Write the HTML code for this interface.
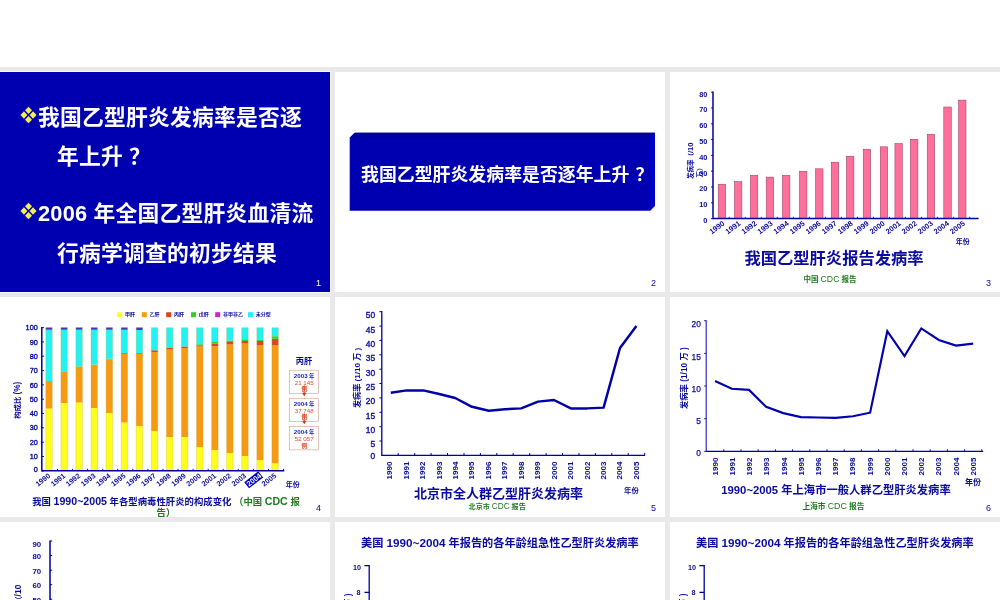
<!DOCTYPE html>
<html lang="zh">
<head>
<meta charset="utf-8">
<title>乙型肝炎发病率</title>
<style>
html,body{margin:0;padding:0;}
body{width:1000px;height:600px;overflow:hidden;background:#fff;position:relative;
 font-family:"Liberation Sans","Noto Sans CJK SC",sans-serif;font-weight:bold;}
#grid{position:absolute;left:0;top:67px;width:1000px;height:533px;background:#e9e9e9;overflow:hidden;}
.s{position:absolute;width:330px;height:220px;background:#fff;overflow:hidden;}
.s svg{position:absolute;left:0;top:0;}
.c1{left:0}.c2{left:335px}.c3{left:670px}
.r1{top:5px}.r2{top:230px}.r3{top:455px}
.n{position:absolute;right:9px;bottom:3.7px;font-size:9px;font-weight:normal;color:#0a0a9e;line-height:9px;}
text{font-family:"Liberation Sans","Noto Sans CJK SC",sans-serif;font-weight:bold;}
.L{font-size:1.13em;line-height:1px;}
#s1{background:#0000b0;color:#fff;box-shadow:0 0 0 1px #f6f6fc;}
#s1 p{position:absolute;margin:0.5px 0 0;white-space:nowrap;font-size:21.8px;line-height:26px;letter-spacing:0.2px;}
#s1 p span{margin-left:6px;}
#s1 .b{position:absolute;left:19.5px;width:17px;height:18px;}
</style>
</head>
<body>
<div id="grid">

<!-- slide 1 -->
<div class="s c1 r1" id="s1">
 <svg class="b" style="top:34.3px" viewBox="0 0 16 17"><g fill="#f0ec5c"><path d="M8 0.6l3.3 3.5L8 7.6 4.7 4.1z"/><path d="M3.7 5L7 8.5l-3.3 3.5L0.4 8.5z"/><path d="M12.3 5l3.3 3.5-3.3 3.5L9 8.5z"/><path d="M8 9.4l3.3 3.5L8 16.4l-3.3-3.5z"/></g></svg>
 <p style="left:38px;top:32px">我国乙型肝炎发病率是否逐</p>
 <p style="left:57px;top:71px">年上升<span>？</span></p>
 <svg class="b" style="top:130.3px" viewBox="0 0 16 17"><g fill="#f0ec5c"><path d="M8 0.6l3.3 3.5L8 7.6 4.7 4.1z"/><path d="M3.7 5L7 8.5l-3.3 3.5L0.4 8.5z"/><path d="M12.3 5l3.3 3.5-3.3 3.5L9 8.5z"/><path d="M8 9.4l3.3 3.5L8 16.4l-3.3-3.5z"/></g></svg>
 <p style="left:38px;top:128.5px">2006 年全国乙型肝炎血清流</p>
 <p style="left:57px;top:168px">行病学调查的初步结果</p>
 <div class="n" style="color:#fff">1</div>
</div>

<!-- slide 2 -->
<div class="s c2 r1" id="s2">
 <svg width="330" height="220"><defs><linearGradient id="tg" x1="0" y1="0" x2="0" y2="1"><stop offset="0" stop-color="#00008c"/><stop offset="1" stop-color="#0000aa"/></linearGradient></defs><path d="M14.7 65.7L19.7 60.7H320V133.7L315 138.7H14.7z" fill="#0000b0"/><path d="M14.7 65.7L19.7 60.7H320L315 65.7z" fill="url(#tg)"/><path d="M320 60.7V133.7L315 138.7V65.7z" fill="#0000c6"/>
 <text x="26" y="109.2" font-size="17.9" fill="#fff">我国乙型肝炎发病率是否逐年上升<tspan dx="6">？</tspan></text></svg>
 <div class="n">2</div>
</div>

<!-- slide 3 -->
<div class="s c3 r1" id="s3"><svg width="330" height="220"><g fill="#ff6f9c" stroke="#8a3c5a" stroke-width="0.5"><rect x="48.2" y="112.2" width="7.5" height="34.4"/><rect x="64.4" y="109.6" width="7.5" height="37"/><rect x="80.3" y="103.3" width="7.5" height="43.3"/><rect x="96.2" y="105.1" width="7.5" height="41.5"/><rect x="112.4" y="103.3" width="7.5" height="43.3"/><rect x="129.4" y="99.2" width="7.5" height="47.4"/><rect x="145.5" y="96.8" width="7.5" height="49.8"/><rect x="161.2" y="90.2" width="7.5" height="56.4"/><rect x="176.4" y="84.2" width="7.5" height="62.4"/><rect x="193.2" y="77.2" width="7.5" height="69.4"/><rect x="210.2" y="74.8" width="7.5" height="71.8"/><rect x="224.9" y="71.5" width="7.5" height="75.1"/><rect x="240.4" y="67.3" width="7.5" height="79.3"/><rect x="257.2" y="62.2" width="7.5" height="84.4"/><rect x="273.8" y="35" width="7.5" height="111.6"/><rect x="288.5" y="28.1" width="7.5" height="118.5"/></g>
<path d="M43 19.5L43 147.3" stroke="#00009c" stroke-width="1.5" fill="none"/>
<path d="M43 146.6L308.6 146.6" stroke="#00009c" stroke-width="1.5" fill="none"/>
<path d="M41 146.6H43M41 130.8H43M41 115H43M41 99.2H43M41 83.4H43M41 67.6H43M41 51.8H43M41 36H43M41 20.2H43M59.2 146.6V144.8M75.3 146.6V144.8M91.3 146.6V144.8M107.3 146.6V144.8M123.4 146.6V144.8M139.4 146.6V144.8M155.4 146.6V144.8M171.4 146.6V144.8M187.5 146.6V144.8M203.5 146.6V144.8M219.5 146.6V144.8M235.6 146.6V144.8M251.6 146.6V144.8M267.6 146.6V144.8M283.7 146.6V144.8M299.7 146.6V144.8" stroke="#00009c" stroke-width="0.9" fill="none"/>
<text x="37.3" y="150.9" font-size="7.3" fill="#0a0a9e" text-anchor="end">0</text><text x="37.3" y="135.1" font-size="7.3" fill="#0a0a9e" text-anchor="end">10</text><text x="37.3" y="119.3" font-size="7.3" fill="#0a0a9e" text-anchor="end">20</text><text x="37.3" y="103.5" font-size="7.3" fill="#0a0a9e" text-anchor="end">30</text><text x="37.3" y="87.7" font-size="7.3" fill="#0a0a9e" text-anchor="end">40</text><text x="37.3" y="71.9" font-size="7.3" fill="#0a0a9e" text-anchor="end">50</text><text x="37.3" y="56.1" font-size="7.3" fill="#0a0a9e" text-anchor="end">60</text><text x="37.3" y="40.3" font-size="7.3" fill="#0a0a9e" text-anchor="end">70</text><text x="37.3" y="24.5" font-size="7.3" fill="#0a0a9e" text-anchor="end">80</text><text x="55.2" y="152.6" font-size="7.5" fill="#0a0a9e" text-anchor="end" transform="rotate(-36 55.2 152.6)">1990</text><text x="71.2" y="152.6" font-size="7.5" fill="#0a0a9e" text-anchor="end" transform="rotate(-36 71.2 152.6)">1991</text><text x="87.3" y="152.6" font-size="7.5" fill="#0a0a9e" text-anchor="end" transform="rotate(-36 87.3 152.6)">1992</text><text x="103.3" y="152.6" font-size="7.5" fill="#0a0a9e" text-anchor="end" transform="rotate(-36 103.3 152.6)">1993</text><text x="119.3" y="152.6" font-size="7.5" fill="#0a0a9e" text-anchor="end" transform="rotate(-36 119.3 152.6)">1994</text><text x="135.4" y="152.6" font-size="7.5" fill="#0a0a9e" text-anchor="end" transform="rotate(-36 135.4 152.6)">1995</text><text x="151.4" y="152.6" font-size="7.5" fill="#0a0a9e" text-anchor="end" transform="rotate(-36 151.4 152.6)">1996</text><text x="167.4" y="152.6" font-size="7.5" fill="#0a0a9e" text-anchor="end" transform="rotate(-36 167.4 152.6)">1997</text><text x="183.4" y="152.6" font-size="7.5" fill="#0a0a9e" text-anchor="end" transform="rotate(-36 183.4 152.6)">1998</text><text x="199.5" y="152.6" font-size="7.5" fill="#0a0a9e" text-anchor="end" transform="rotate(-36 199.5 152.6)">1999</text><text x="215.5" y="152.6" font-size="7.5" fill="#0a0a9e" text-anchor="end" transform="rotate(-36 215.5 152.6)">2000</text><text x="231.5" y="152.6" font-size="7.5" fill="#0a0a9e" text-anchor="end" transform="rotate(-36 231.5 152.6)">2001</text><text x="247.6" y="152.6" font-size="7.5" fill="#0a0a9e" text-anchor="end" transform="rotate(-36 247.6 152.6)">2002</text><text x="263.6" y="152.6" font-size="7.5" fill="#0a0a9e" text-anchor="end" transform="rotate(-36 263.6 152.6)">2003</text><text x="279.6" y="152.6" font-size="7.5" fill="#0a0a9e" text-anchor="end" transform="rotate(-36 279.6 152.6)">2004</text><text x="295.7" y="152.6" font-size="7.5" fill="#0a0a9e" text-anchor="end" transform="rotate(-36 295.7 152.6)">2005</text>
<text x="22.8" y="107" font-size="6.5" fill="#0a0a9e" transform="rotate(-90 22.8 107)">发病率（<tspan font-size="7.6">/10</tspan></text>
<text x="32.4" y="105.5" font-size="6.5" fill="#0a0a9e" transform="rotate(-90 32.4 105.5)">万）</text>
<text x="285.8" y="171.8" font-size="7" fill="#0a0a9e">年份</text>
<text x="164" y="191.6" font-size="16.3" fill="#0a0a9e" text-anchor="middle">我国乙型肝炎报告发病率</text>
<text x="160" y="210.2" font-size="7.5" fill="#1c7a1c" text-anchor="middle">中国 <tspan font-size="8.7" style="font-weight:normal">CDC</tspan> 报告</text></svg><div class="n">3</div></div>

<!-- slide 4 -->
<div class="s c1 r2" id="s4"><svg width="330" height="220"><path d="M45.8 111.5h6.5V173.8h-6.5zM60.9 106.1h6.5V173.8h-6.5zM75.9 105.4h6.5V173.8h-6.5zM91 111.1h6.5V173.8h-6.5zM106.1 116.1h6.5V173.8h-6.5zM121.1 125.5h6.5V173.8h-6.5zM136.2 129h6.5V173.8h-6.5zM151.3 134h6.5V173.8h-6.5zM166.4 140.1h6.5V173.8h-6.5zM181.4 140.1h6.5V173.8h-6.5zM196.5 150h6.5V173.8h-6.5zM211.6 152.9h6.5V173.8h-6.5zM226.6 156h6.5V173.8h-6.5zM241.7 158.9h6.5V173.8h-6.5zM256.8 162.9h6.5V173.8h-6.5zM271.9 166.2h6.5V173.8h-6.5z" fill="#ffff1e"/>
<path d="M45.8 83.9h6.5V111.5h-6.5zM60.9 75h6.5V106.1h-6.5zM75.9 69.6h6.5V105.4h-6.5zM91 67.8h6.5V111.1h-6.5zM106.1 62.4h6.5V116.1h-6.5zM121.1 56.9h6.5V125.5h-6.5zM136.2 56.9h6.5V129h-6.5zM151.3 54.9h6.5V134h-6.5zM166.4 52.4h6.5V140.1h-6.5zM181.4 50.9h6.5V140.1h-6.5zM196.5 49.6h6.5V150h-6.5zM211.6 49.2h6.5V152.9h-6.5zM226.6 47.6h6.5V156h-6.5zM241.7 46.4h6.5V158.9h-6.5zM256.8 48.5h6.5V162.9h-6.5zM271.9 48.5h6.5V166.2h-6.5z" fill="#f59a12"/>
<path d="M151.3 53.2h6.5V54.9h-6.5zM166.4 50.9h6.5V52.4h-6.5zM181.4 49.4h6.5V50.9h-6.5zM196.5 48.2h6.5V49.6h-6.5zM211.6 46.4h6.5V49.2h-6.5zM226.6 45.1h6.5V47.6h-6.5zM241.7 43.9h6.5V46.4h-6.5zM256.8 44.1h6.5V48.5h-6.5zM271.9 41.8h6.5V48.5h-6.5z" fill="#d8481c"/>
<path d="M60.9 74.6h6.5V75h-6.5zM75.9 69.3h6.5V69.6h-6.5zM91 67.4h6.5V67.8h-6.5zM106.1 61.8h6.5V62.4h-6.5zM121.1 56.1h6.5V56.9h-6.5zM136.2 56.1h6.5V56.9h-6.5zM196.5 47.2h6.5V48.2h-6.5zM211.6 45.1h6.5V46.4h-6.5zM226.6 43.6h6.5V45.1h-6.5zM241.7 42.3h6.5V43.9h-6.5zM256.8 42.6h6.5V44.1h-6.5zM271.9 39.3h6.5V41.8h-6.5z" fill="#30d030"/>
<path d="M45.8 32.7h6.5V83.9h-6.5zM60.9 32.7h6.5V74.6h-6.5zM75.9 32.7h6.5V69.3h-6.5zM91 32.7h6.5V67.4h-6.5zM106.1 32.7h6.5V61.8h-6.5zM121.1 32.7h6.5V56.1h-6.5zM136.2 33h6.5V56.1h-6.5zM151.3 30.6h6.5V53.2h-6.5zM166.4 30.6h6.5V50.9h-6.5zM181.4 30.6h6.5V49.4h-6.5zM196.5 30.6h6.5V47.2h-6.5zM211.6 30.6h6.5V45.1h-6.5zM226.6 30.6h6.5V43.6h-6.5zM241.7 30.6h6.5V42.3h-6.5zM256.8 30.6h6.5V42.6h-6.5zM271.9 30.6h6.5V39.3h-6.5z" fill="#22f2f2"/>
<path d="M45.8 30.6h6.5V32.7h-6.5zM60.9 30.6h6.5V32.7h-6.5zM75.9 30.6h6.5V32.7h-6.5zM91 30.6h6.5V32.7h-6.5zM106.1 30.6h6.5V32.7h-6.5zM121.1 30.6h6.5V32.7h-6.5zM136.2 30.6h6.5V33h-6.5z" fill="#5030b8"/>
<path d="M45.8 30.6V173.8M52.3 30.6V173.8M60.9 30.6V173.8M67.4 30.6V173.8M75.9 30.6V173.8M82.4 30.6V173.8M91 30.6V173.8M97.5 30.6V173.8M106.1 30.6V173.8M112.6 30.6V173.8M121.1 30.6V173.8M127.6 30.6V173.8M136.2 30.6V173.8M142.7 30.6V173.8M151.3 30.6V173.8M157.8 30.6V173.8M166.4 30.6V173.8M172.9 30.6V173.8M181.4 30.6V173.8M187.9 30.6V173.8M196.5 30.6V173.8M203 30.6V173.8M211.6 30.6V173.8M218.1 30.6V173.8M226.6 30.6V173.8M233.1 30.6V173.8M241.7 30.6V173.8M248.2 30.6V173.8M256.8 30.6V173.8M263.3 30.6V173.8M271.9 30.6V173.8M278.4 30.6V173.8" stroke="#c8a030" stroke-width="0.4" fill="none" opacity="0.7"/>
<path d="M41.8 29.9L41.8 174.5" stroke="#00009c" stroke-width="1.5" fill="none"/>
<path d="M41.8 173.8L284.3 173.8" stroke="#00009c" stroke-width="1.5" fill="none"/>
<path d="M41.8 173.8H44M41.8 159.5H44M41.8 145.2H44M41.8 130.8H44M41.8 116.5H44M41.8 102.2H44M41.8 87.9H44M41.8 73.6H44M41.8 59.2H44M41.8 44.9H44M41.8 30.6H44M57.5 173.8V171.8M72.5 173.8V171.8M87.6 173.8V171.8M102.7 173.8V171.8M117.7 173.8V171.8M132.8 173.8V171.8M147.9 173.8V171.8M163 173.8V171.8M178 173.8V171.8M193.1 173.8V171.8M208.2 173.8V171.8M223.2 173.8V171.8M238.3 173.8V171.8M253.4 173.8V171.8M268.5 173.8V171.8M283.5 173.8V171.8" stroke="#00009c" stroke-width="0.9" fill="none"/>
<text x="37.8" y="174.8" font-size="7.3" fill="#0a0a9e" text-anchor="end" style="font-weight:normal;stroke:#0a0a9e;stroke-width:0.35">0</text><text x="37.8" y="162.1" font-size="7.3" fill="#0a0a9e" text-anchor="end" style="font-weight:normal;stroke:#0a0a9e;stroke-width:0.35">10</text><text x="37.8" y="147.8" font-size="7.3" fill="#0a0a9e" text-anchor="end" style="font-weight:normal;stroke:#0a0a9e;stroke-width:0.35">20</text><text x="37.8" y="133.4" font-size="7.3" fill="#0a0a9e" text-anchor="end" style="font-weight:normal;stroke:#0a0a9e;stroke-width:0.35">30</text><text x="37.8" y="119.1" font-size="7.3" fill="#0a0a9e" text-anchor="end" style="font-weight:normal;stroke:#0a0a9e;stroke-width:0.35">40</text><text x="37.8" y="104.8" font-size="7.3" fill="#0a0a9e" text-anchor="end" style="font-weight:normal;stroke:#0a0a9e;stroke-width:0.35">50</text><text x="37.8" y="90.5" font-size="7.3" fill="#0a0a9e" text-anchor="end" style="font-weight:normal;stroke:#0a0a9e;stroke-width:0.35">60</text><text x="37.8" y="76.2" font-size="7.3" fill="#0a0a9e" text-anchor="end" style="font-weight:normal;stroke:#0a0a9e;stroke-width:0.35">70</text><text x="37.8" y="61.8" font-size="7.3" fill="#0a0a9e" text-anchor="end" style="font-weight:normal;stroke:#0a0a9e;stroke-width:0.35">80</text><text x="37.8" y="47.5" font-size="7.3" fill="#0a0a9e" text-anchor="end" style="font-weight:normal;stroke:#0a0a9e;stroke-width:0.35">90</text><text x="37.8" y="33.2" font-size="7.3" fill="#0a0a9e" text-anchor="end" style="font-weight:normal;stroke:#0a0a9e;stroke-width:0.35">100</text><text x="50.9" y="179.8" font-size="7.3" fill="#0a0a9e" text-anchor="end" transform="rotate(-38 50.9 179.8)">1990</text><text x="66" y="179.8" font-size="7.3" fill="#0a0a9e" text-anchor="end" transform="rotate(-38 66 179.8)">1991</text><text x="81" y="179.8" font-size="7.3" fill="#0a0a9e" text-anchor="end" transform="rotate(-38 81 179.8)">1992</text><text x="96.1" y="179.8" font-size="7.3" fill="#0a0a9e" text-anchor="end" transform="rotate(-38 96.1 179.8)">1993</text><text x="111.2" y="179.8" font-size="7.3" fill="#0a0a9e" text-anchor="end" transform="rotate(-38 111.2 179.8)">1994</text><text x="126.2" y="179.8" font-size="7.3" fill="#0a0a9e" text-anchor="end" transform="rotate(-38 126.2 179.8)">1995</text><text x="141.3" y="179.8" font-size="7.3" fill="#0a0a9e" text-anchor="end" transform="rotate(-38 141.3 179.8)">1996</text><text x="156.4" y="179.8" font-size="7.3" fill="#0a0a9e" text-anchor="end" transform="rotate(-38 156.4 179.8)">1997</text><text x="171.5" y="179.8" font-size="7.3" fill="#0a0a9e" text-anchor="end" transform="rotate(-38 171.5 179.8)">1998</text><text x="186.5" y="179.8" font-size="7.3" fill="#0a0a9e" text-anchor="end" transform="rotate(-38 186.5 179.8)">1999</text><text x="201.6" y="179.8" font-size="7.3" fill="#0a0a9e" text-anchor="end" transform="rotate(-38 201.6 179.8)">2000</text><text x="216.7" y="179.8" font-size="7.3" fill="#0a0a9e" text-anchor="end" transform="rotate(-38 216.7 179.8)">2001</text><text x="231.7" y="179.8" font-size="7.3" fill="#0a0a9e" text-anchor="end" transform="rotate(-38 231.7 179.8)">2002</text><text x="246.8" y="179.8" font-size="7.3" fill="#0a0a9e" text-anchor="end" transform="rotate(-38 246.8 179.8)">2003</text><g transform="rotate(-38 261.9 179.8)"><rect x="244.7" y="173.2" width="17.8" height="7.8" fill="#0000b0"/><text x="261.9" y="179.8" font-size="7.3" fill="#fff" text-anchor="end">2004</text></g><text x="276.9" y="179.8" font-size="7.3" fill="#0a0a9e" text-anchor="end" transform="rotate(-38 276.9 179.8)">2005</text>
<text x="20.2" y="121.8" font-size="7.4" fill="#0a0a9e" transform="rotate(-90 20.2 121.8)">构成比 <tspan font-size="8.2">(%)</tspan></text>
<rect x="117.2" y="15.2" width="5" height="5" fill="#ffff1e"/>
<text x="125" y="19.4" font-size="5" fill="#0a0a9e">甲肝</text>
<rect x="141.8" y="15.2" width="5" height="5" fill="#f59a12"/>
<text x="149.6" y="19.4" font-size="5" fill="#0a0a9e">乙肝</text>
<rect x="166.2" y="15.2" width="5" height="5" fill="#d8481c"/>
<text x="174" y="19.4" font-size="5" fill="#0a0a9e">丙肝</text>
<rect x="191" y="15.2" width="5" height="5" fill="#30d030"/>
<text x="198.8" y="19.4" font-size="5" fill="#0a0a9e">戊肝</text>
<rect x="215.2" y="15.2" width="5" height="5" fill="#d020d0"/>
<text x="223" y="19.4" font-size="5" fill="#0a0a9e">非甲非乙</text>
<rect x="248" y="15.2" width="5" height="5" fill="#22f2f2"/>
<text x="255.8" y="19.4" font-size="5" fill="#0a0a9e">未分型</text>
<text x="304" y="67" font-size="8.2" fill="#0a0a9e" text-anchor="middle">丙肝</text>
<rect x="289.6" y="73.2" width="29" height="23.2" fill="#fff" stroke="#cc8874" stroke-width="0.5"/>
<text x="304.2" y="80.8" font-size="6.2" fill="#1a1ab8" text-anchor="middle">2003<tspan font-size="5.4"> 年</tspan></text>
<text x="304.2" y="87.8" font-size="6.2" fill="#e2491c" text-anchor="middle" style="font-weight:normal">21 145</text>
<text x="304.2" y="94.4" font-size="5.6" fill="#e0401a" text-anchor="middle">例</text>
<rect x="289.6" y="101.2" width="29" height="23.2" fill="#fff" stroke="#cc8874" stroke-width="0.5"/>
<text x="304.2" y="108.8" font-size="6.2" fill="#1a1ab8" text-anchor="middle">2004<tspan font-size="5.4"> 年</tspan></text>
<text x="304.2" y="115.8" font-size="6.2" fill="#e2491c" text-anchor="middle" style="font-weight:normal">37 748</text>
<text x="304.2" y="122.4" font-size="5.6" fill="#e0401a" text-anchor="middle">例</text>
<rect x="289.6" y="129.7" width="29" height="23.2" fill="#fff" stroke="#cc8874" stroke-width="0.5"/>
<text x="304.2" y="137.3" font-size="6.2" fill="#1a1ab8" text-anchor="middle">2004<tspan font-size="5.4"> 年</tspan></text>
<text x="304.2" y="144.3" font-size="6.2" fill="#e2491c" text-anchor="middle" style="font-weight:normal">52 057</text>
<text x="304.2" y="150.9" font-size="5.6" fill="#e0401a" text-anchor="middle">例</text>
<path d="M304.3 88.4V96.4M302.8 96h3l-1.5 2.8z" stroke="#d8381c" stroke-width="0.8" fill="#d8381c"/>
<path d="M304.3 116.4V124.4M302.8 124h3l-1.5 2.8z" stroke="#d8381c" stroke-width="0.8" fill="#d8381c"/>
<text x="285.8" y="190" font-size="7" fill="#0a0a9e">年份</text></svg>
 <div style="position:absolute;left:16px;top:198.5px;width:300px;text-align:center;white-space:nowrap;font-size:9.4px;line-height:11.4px;color:#0a0a9e">我国 <span class="L">1990~2005</span> 年各型病毒性肝炎的构成变化 <span style="color:#1c7a1c">（中国 <span class="L">CDC</span> 报<br>告）</span></div>
 <div class="n">4</div></div>

<!-- slide 5 -->
<div class="s c2 r2" id="s5"><svg width="330" height="220"><path d="M46.8 14.1L46.8 159" stroke="#00009c" stroke-width="1.3" fill="none"/>
<path d="M46.8 158.4L310 158.4" stroke="#00009c" stroke-width="1.3" fill="none"/>
<path d="M44.4 144H46.8M44.4 129.7H46.8M44.4 115.3H46.8M44.4 100.9H46.8M44.4 86.5H46.8M44.4 72.2H46.8M44.4 57.8H46.8M44.4 43.4H46.8M44.4 29.1H46.8M44.4 14.7H46.8M63.2 158.4V156M79.7 158.4V156M96.1 158.4V156M112.5 158.4V156M129 158.4V156M145.4 158.4V156M161.8 158.4V156M178.2 158.4V156M194.7 158.4V156M211.1 158.4V156M227.5 158.4V156M244 158.4V156M260.4 158.4V156M276.8 158.4V156M293.2 158.4V156M309.7 158.4V156" stroke="#00009c" stroke-width="1" fill="none"/>
<text x="40.2" y="161.8" font-size="8.4" fill="#0a0a9e" text-anchor="end" style="font-weight:normal;stroke:#0a0a9e;stroke-width:0.35">0</text><text x="40.2" y="150.2" font-size="8.4" fill="#0a0a9e" text-anchor="end" style="font-weight:normal;stroke:#0a0a9e;stroke-width:0.35">5</text><text x="40.2" y="135.9" font-size="8.4" fill="#0a0a9e" text-anchor="end" style="font-weight:normal;stroke:#0a0a9e;stroke-width:0.35">10</text><text x="40.2" y="121.5" font-size="8.4" fill="#0a0a9e" text-anchor="end" style="font-weight:normal;stroke:#0a0a9e;stroke-width:0.35">15</text><text x="40.2" y="107.2" font-size="8.4" fill="#0a0a9e" text-anchor="end" style="font-weight:normal;stroke:#0a0a9e;stroke-width:0.35">20</text><text x="40.2" y="92.9" font-size="8.4" fill="#0a0a9e" text-anchor="end" style="font-weight:normal;stroke:#0a0a9e;stroke-width:0.35">25</text><text x="40.2" y="78.5" font-size="8.4" fill="#0a0a9e" text-anchor="end" style="font-weight:normal;stroke:#0a0a9e;stroke-width:0.35">30</text><text x="40.2" y="64.2" font-size="8.4" fill="#0a0a9e" text-anchor="end" style="font-weight:normal;stroke:#0a0a9e;stroke-width:0.35">35</text><text x="40.2" y="49.9" font-size="8.4" fill="#0a0a9e" text-anchor="end" style="font-weight:normal;stroke:#0a0a9e;stroke-width:0.35">40</text><text x="40.2" y="35.6" font-size="8.4" fill="#0a0a9e" text-anchor="end" style="font-weight:normal;stroke:#0a0a9e;stroke-width:0.35">45</text><text x="40.2" y="21.2" font-size="8.4" fill="#0a0a9e" text-anchor="end" style="font-weight:normal;stroke:#0a0a9e;stroke-width:0.35">50</text><text x="57.4" y="164.6" font-size="8" fill="#0a0a9e" text-anchor="end" transform="rotate(-90 57.4 164.6)">1990</text><text x="73.8" y="164.6" font-size="8" fill="#0a0a9e" text-anchor="end" transform="rotate(-90 73.8 164.6)">1991</text><text x="90.3" y="164.6" font-size="8" fill="#0a0a9e" text-anchor="end" transform="rotate(-90 90.3 164.6)">1992</text><text x="106.7" y="164.6" font-size="8" fill="#0a0a9e" text-anchor="end" transform="rotate(-90 106.7 164.6)">1993</text><text x="123.1" y="164.6" font-size="8" fill="#0a0a9e" text-anchor="end" transform="rotate(-90 123.1 164.6)">1994</text><text x="139.5" y="164.6" font-size="8" fill="#0a0a9e" text-anchor="end" transform="rotate(-90 139.5 164.6)">1995</text><text x="156" y="164.6" font-size="8" fill="#0a0a9e" text-anchor="end" transform="rotate(-90 156 164.6)">1996</text><text x="172.4" y="164.6" font-size="8" fill="#0a0a9e" text-anchor="end" transform="rotate(-90 172.4 164.6)">1997</text><text x="188.8" y="164.6" font-size="8" fill="#0a0a9e" text-anchor="end" transform="rotate(-90 188.8 164.6)">1998</text><text x="205.3" y="164.6" font-size="8" fill="#0a0a9e" text-anchor="end" transform="rotate(-90 205.3 164.6)">1999</text><text x="221.7" y="164.6" font-size="8" fill="#0a0a9e" text-anchor="end" transform="rotate(-90 221.7 164.6)">2000</text><text x="238.1" y="164.6" font-size="8" fill="#0a0a9e" text-anchor="end" transform="rotate(-90 238.1 164.6)">2001</text><text x="254.6" y="164.6" font-size="8" fill="#0a0a9e" text-anchor="end" transform="rotate(-90 254.6 164.6)">2002</text><text x="271" y="164.6" font-size="8" fill="#0a0a9e" text-anchor="end" transform="rotate(-90 271 164.6)">2003</text><text x="287.4" y="164.6" font-size="8" fill="#0a0a9e" text-anchor="end" transform="rotate(-90 287.4 164.6)">2004</text><text x="303.8" y="164.6" font-size="8" fill="#0a0a9e" text-anchor="end" transform="rotate(-90 303.8 164.6)">2005</text>
<path d="M55.8 95.8L71.8 93.4L88.2 93.4L104.2 97L120.2 101L137 109.8L153.8 113.8L169.8 112.2L186.2 111.4L203 104.6L219 103L235.8 111.4L252.2 111.4L268.6 110.6L285 51L301.4 29" stroke="#0000a6" stroke-width="2.45" fill="none" stroke-linejoin="round"/>
<text x="25.4" y="111" font-size="8.1" fill="#0a0a9e" transform="rotate(-90 25.4 111)">发病率 (1/10 万 )</text>
<text x="163.4" y="201.4" font-size="13" fill="#0a0a9e" text-anchor="middle">北京市全人群乙型肝炎发病率</text>
<text x="162.2" y="211.6" font-size="7.1" fill="#1c7a1c" text-anchor="middle">北京市 <tspan font-size="8.2" style="font-weight:normal">CDC</tspan> 报告</text>
<text x="289" y="195.8" font-size="7.4" fill="#0a0a9e">年份</text></svg><div class="n">5</div></div>

<!-- slide 6 -->
<div class="s c3 r2" id="s6"><svg width="330" height="220"><path d="M36.2 23.2L36.2 155" stroke="#1c1ca8" stroke-width="1.1" fill="none"/>
<path d="M36.2 154.4L313.2 154.4" stroke="#00009c" stroke-width="1.3" fill="none"/>
<path d="M34.2 154.4H36.2M34.2 121.7H36.2M34.2 89H36.2M34.2 56.4H36.2M34.2 23.7H36.2M53.8 154.4V152.2M71 154.4V152.2M88.2 154.4V152.2M105.4 154.4V152.2M122.6 154.4V152.2M139.8 154.4V152.2M157 154.4V152.2M174.2 154.4V152.2M191.4 154.4V152.2M208.6 154.4V152.2M225.8 154.4V152.2M243 154.4V152.2M260.2 154.4V152.2M277.4 154.4V152.2M294.6 154.4V152.2M311.8 154.4V152.2" stroke="#00009c" stroke-width="0.9" fill="none"/>
<text x="30.8" y="159.4" font-size="8.4" fill="#0a0a9e" text-anchor="end" style="font-weight:normal;stroke:#0a0a9e;stroke-width:0.25">0</text><text x="30.8" y="126.8" font-size="8.4" fill="#0a0a9e" text-anchor="end" style="font-weight:normal;stroke:#0a0a9e;stroke-width:0.25">5</text><text x="30.8" y="95" font-size="8.4" fill="#0a0a9e" text-anchor="end" style="font-weight:normal;stroke:#0a0a9e;stroke-width:0.25">10</text><text x="30.8" y="62.6" font-size="8.4" fill="#0a0a9e" text-anchor="end" style="font-weight:normal;stroke:#0a0a9e;stroke-width:0.25">15</text><text x="30.8" y="30.2" font-size="8.4" fill="#0a0a9e" text-anchor="end" style="font-weight:normal;stroke:#0a0a9e;stroke-width:0.25">20</text><text x="47.8" y="160.6" font-size="8" fill="#0a0a9e" text-anchor="end" transform="rotate(-90 47.8 160.6)">1990</text><text x="65" y="160.6" font-size="8" fill="#0a0a9e" text-anchor="end" transform="rotate(-90 65 160.6)">1991</text><text x="82.2" y="160.6" font-size="8" fill="#0a0a9e" text-anchor="end" transform="rotate(-90 82.2 160.6)">1992</text><text x="99.4" y="160.6" font-size="8" fill="#0a0a9e" text-anchor="end" transform="rotate(-90 99.4 160.6)">1993</text><text x="116.6" y="160.6" font-size="8" fill="#0a0a9e" text-anchor="end" transform="rotate(-90 116.6 160.6)">1994</text><text x="133.8" y="160.6" font-size="8" fill="#0a0a9e" text-anchor="end" transform="rotate(-90 133.8 160.6)">1995</text><text x="151" y="160.6" font-size="8" fill="#0a0a9e" text-anchor="end" transform="rotate(-90 151 160.6)">1996</text><text x="168.2" y="160.6" font-size="8" fill="#0a0a9e" text-anchor="end" transform="rotate(-90 168.2 160.6)">1997</text><text x="185.4" y="160.6" font-size="8" fill="#0a0a9e" text-anchor="end" transform="rotate(-90 185.4 160.6)">1998</text><text x="202.6" y="160.6" font-size="8" fill="#0a0a9e" text-anchor="end" transform="rotate(-90 202.6 160.6)">1999</text><text x="219.8" y="160.6" font-size="8" fill="#0a0a9e" text-anchor="end" transform="rotate(-90 219.8 160.6)">2000</text><text x="237" y="160.6" font-size="8" fill="#0a0a9e" text-anchor="end" transform="rotate(-90 237 160.6)">2001</text><text x="254.2" y="160.6" font-size="8" fill="#0a0a9e" text-anchor="end" transform="rotate(-90 254.2 160.6)">2002</text><text x="271.4" y="160.6" font-size="8" fill="#0a0a9e" text-anchor="end" transform="rotate(-90 271.4 160.6)">2003</text><text x="288.6" y="160.6" font-size="8" fill="#0a0a9e" text-anchor="end" transform="rotate(-90 288.6 160.6)">2004</text><text x="305.8" y="160.6" font-size="8" fill="#0a0a9e" text-anchor="end" transform="rotate(-90 305.8 160.6)">2005</text>
<path d="M45 84.1L61.8 91.7L79 92.9L96.1 109.7L113.3 116.1L130.9 120.1L148.1 120.5L165.7 120.9L182.9 119.3L200.1 115.7L217.3 34.2L234.5 59L251.3 31.4L268.8 43L286 48.6L303.2 46.6" stroke="#0000ac" stroke-width="2.15" fill="none"/>
<text x="16.8" y="112" font-size="8.3" fill="#0a0a9e" transform="rotate(-90 16.8 112)">发病率 (1/10 万 )</text>
<text x="166" y="197" font-size="11.3" fill="#0a0a9e" text-anchor="middle">1990~2005 年上海市一般人群乙型肝炎发病率</text>
<text x="163.4" y="211.8" font-size="7.7" fill="#1c7a1c" text-anchor="middle">上海市 <tspan font-size="8.9" style="font-weight:normal">CDC</tspan> 报告</text>
<text x="295" y="188" font-size="8" fill="#0a0a9e">年份</text></svg><div class="n">6</div></div>

<!-- slide 7 -->
<div class="s c1 r3" id="s7"><svg width="330" height="220"><path d="M50 18.4L50 98" stroke="#00009c" stroke-width="1.5" fill="none"/>
<path d="M50 19H52.2M50 33.6H52.2M50 48.2H52.2M50 62.7H52.2M50 77.2H52.2" stroke="#00009c" stroke-width="1" fill="none"/>
<text x="41.2" y="25.4" font-size="7.8" fill="#0a0a9e" text-anchor="end">90</text>
<text x="41.2" y="37.2" font-size="7.8" fill="#0a0a9e" text-anchor="end">80</text>
<text x="41.2" y="51.6" font-size="7.8" fill="#0a0a9e" text-anchor="end">70</text>
<text x="41.2" y="66.2" font-size="7.8" fill="#0a0a9e" text-anchor="end">60</text>
<text x="41.2" y="80.8" font-size="7.8" fill="#0a0a9e" text-anchor="end">50</text>
<text x="21" y="62.6" font-size="7.4" fill="#0a0a9e" text-anchor="end" transform="rotate(-90 21 62.6)">发病率（<tspan font-size="8.5">/10</tspan></text></svg></div>

<!-- slide 8 -->
<div class="s c2 r3" id="s8"><svg width="330" height="220"><path d="M34.2 43L34.2 118" stroke="#00009c" stroke-width="1.3" fill="none"/>
<path d="M29.4 43.6H34.2M29.4 70.4H34.2" stroke="#00009c" stroke-width="1.1" fill="none"/>
<text x="25.9" y="47.8" font-size="7.2" fill="#0a0a9e" text-anchor="end">10</text>
<text x="25.5" y="72.8" font-size="7.2" fill="#0a0a9e" text-anchor="end">8</text>
<text x="15.8" y="71.6" font-size="8.2" fill="#0a0a9e" text-anchor="end" transform="rotate(-90 15.8 71.6)">发病率 (1/10 万 )</text>
<text x="164.9" y="25.2" font-size="11.2" fill="#0a0a9e" text-anchor="middle">美国 <tspan font-size="11.7">1990~2004</tspan> 年报告的各年龄组急性乙型肝炎发病率</text></svg></div>

<!-- slide 9 -->
<div class="s c3 r3" id="s9"><svg width="330" height="220"><path d="M34.2 43L34.2 118" stroke="#00009c" stroke-width="1.3" fill="none"/>
<path d="M29.4 43.6H34.2M29.4 70.4H34.2" stroke="#00009c" stroke-width="1.1" fill="none"/>
<text x="25.9" y="47.8" font-size="7.2" fill="#0a0a9e" text-anchor="end">10</text>
<text x="25.5" y="72.8" font-size="7.2" fill="#0a0a9e" text-anchor="end">8</text>
<text x="15.8" y="71.6" font-size="8.2" fill="#0a0a9e" text-anchor="end" transform="rotate(-90 15.8 71.6)">发病率 (1/10 万 )</text>
<text x="164.9" y="25.2" font-size="11.2" fill="#0a0a9e" text-anchor="middle">美国 <tspan font-size="11.7">1990~2004</tspan> 年报告的各年龄组急性乙型肝炎发病率</text></svg></div>

</div>
</body>
</html>
